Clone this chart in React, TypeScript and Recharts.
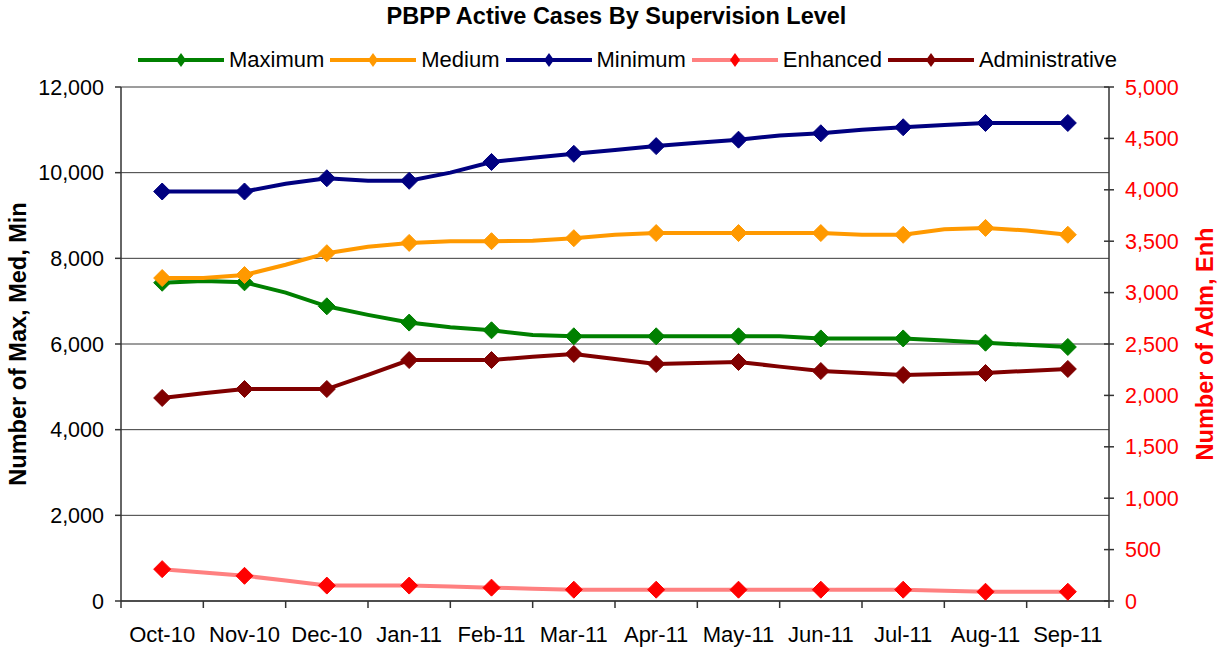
import React from 'react';
import { LineChart, Line, XAxis, YAxis, CartesianGrid, Legend } from 'recharts';

// Category labels (one per month)
const months = ['Oct-10', 'Nov-10', 'Dec-10', 'Jan-11', 'Feb-11', 'Mar-11', 'Apr-11', 'May-11', 'Jun-11', 'Jul-11', 'Aug-11', 'Sep-11'];

// Axis ticks
const leftTicks = [0, 2000, 4000, 6000, 8000, 10000, 12000];
const rightTicks = [0, 500, 1000, 1500, 2000, 2500, 3000, 3500, 4000, 4500, 5000];

// Semi-monthly readings (even index = month with marker, odd index = mid-month reading)
const maximum = [7430, 7470, 7440, 7200, 6880, 6680, 6500, 6390, 6320, 6210, 6180, 6180, 6180, 6180, 6180, 6180, 6130, 6130, 6130, 6080, 6030, 5980, 5930];
const medium = [7540, 7540, 7610, 7850, 8120, 8270, 8360, 8400, 8400, 8410, 8470, 8550, 8590, 8590, 8590, 8590, 8590, 8550, 8550, 8680, 8710, 8650, 8550];
const minimum = [9560, 9560, 9560, 9740, 9870, 9810, 9810, 10000, 10250, 10350, 10440, 10530, 10620, 10700, 10770, 10870, 10920, 11000, 11060, 11110, 11160, 11160, 11160];
const enhanced = [310, 278, 245, 200, 150, 150, 150, 140, 130, 120, 110, 110, 110, 110, 110, 110, 110, 110, 110, 100, 90, 90, 90];
const administrative = [1975, 2020, 2062, 2062, 2062, 2200, 2344, 2344, 2344, 2375, 2403, 2355, 2305, 2315, 2325, 2280, 2237, 2218, 2199, 2208, 2218, 2238, 2257];

const data = maximum.map((_, i) => ({
  x: i / 2,
  maximum: maximum[i],
  medium: medium[i],
  minimum: minimum[i],
  enhanced: enhanced[i],
  administrative: administrative[i],
}));

const xTicks = months.flatMap((_, i) => [i - 0.5, i]).concat([months.length - 0.5]);

const FONT = '"Liberation Sans", Arial, Helvetica, sans-serif';
const AXIS_COLOR = '#333333';

const seriesStyle = [
  { key: 'maximum', name: 'Maximum', line: '#008000', marker: '#008000', axis: 'left' },
  { key: 'medium', name: 'Medium', line: '#FF9900', marker: '#FF9900', axis: 'left' },
  { key: 'minimum', name: 'Minimum', line: '#000080', marker: '#000080', axis: 'left' },
  { key: 'enhanced', name: 'Enhanced', line: '#FF8080', marker: '#FF0000', axis: 'right' },
  { key: 'administrative', name: 'Administrative', line: '#800000', marker: '#800000', axis: 'right' },
];

const X_TICK_SIZE = 10;
const X_TICK_MARGIN = 15;

const XTick = (props: any) => {
  const { x, y, payload } = props;
  const v = payload.value as number;
  const axisY = y - X_TICK_SIZE - X_TICK_MARGIN;
  if (!Number.isInteger(v)) {
    return <line x1={x} x2={x} y1={axisY} y2={axisY + 7} stroke={AXIS_COLOR} strokeWidth={1.5} />;
  }
  return (
    <text x={x} y={y} dy="0.71em" textAnchor="middle" fontSize={22} fontFamily={FONT} fill="#000">
      {months[v]}
    </text>
  );
};

const RightTick = (props: any) => {
  const { x, y, payload } = props;
  const axisX = x - 5 - 11;
  return (
    <g>
      <line x1={axisX - 5} x2={axisX + 5} y1={y} y2={y} stroke={AXIS_COLOR} strokeWidth={1.5} />
      <text x={x} y={y} dy="0.355em" textAnchor="start" fontSize={21.5} fontFamily={FONT} fill="#FF0000">
        {Number(payload.value).toLocaleString('en-US')}
      </text>
    </g>
  );
};

const makeDot = (color: string) => (props: any) => {
  const { cx, cy, payload, index } = props;
  if (!Number.isInteger(payload.x) || cx == null || cy == null) {
    return <g key={`d-${index}`} />;
  }
  const r = 8.5;
  return (
    <path
      key={`d-${index}`}
      d={`M${cx},${cy - r}L${cx + r},${cy}L${cx},${cy + r}L${cx - r},${cy}Z`}
      fill={color}
      stroke={color}
      strokeWidth={1}
    />
  );
};

const LegendContent = () => (
  <div style={{ display: 'flex', justifyContent: 'center', alignItems: 'center', fontFamily: FONT, fontSize: 22, color: '#000', paddingLeft: 34 }}>
    {seriesStyle.map((s) => (
      <div key={s.key} style={{ display: 'flex', alignItems: 'center', marginRight: 5 }}>
        <svg width={88} height={20} style={{ display: 'block' }}>
          <line x1={1} x2={87} y1={10} y2={10} stroke={s.line} strokeWidth={4} />
          <path d="M44,3L49,10L44,17L39,10Z" fill={s.marker} />
        </svg>
        <span style={{ marginLeft: 4, whiteSpace: 'nowrap' }}>{s.name}</span>
      </div>
    ))}
  </div>
);

const AxisTitle = (side: 'left' | 'right', text: string, color: string) => (props: any) => {
  const vb = props.viewBox || {};
  const cy = (vb.y ?? 87) + (vb.height ?? 514) / 2;
  const cx = side === 'left' ? (vb.x ?? 0) + 18 : (vb.x ?? 1109) + (vb.width ?? 116) - 20;
  return (
    <text
      x={cx}
      y={cy}
      transform={`rotate(-90 ${cx} ${cy})`}
      textAnchor="middle"
      dominantBaseline="central"
      fontSize={23.5}
      fontWeight="bold"
      fontFamily={FONT}
      fill={color}
    >
      {text}
    </text>
  );
};

export default function App() {
  return (
    <div style={{ position: 'absolute', left: 0, top: 0, width: 1225, height: 649, background: '#fff', fontFamily: FONT }}>
      <div
        style={{
          position: 'absolute',
          left: 0,
          top: 3,
          width: 1225,
          textAlign: 'center',
          fontSize: 23.5,
          fontWeight: 'bold',
          color: '#000',
          paddingLeft: 8,
          boxSizing: 'border-box',
        }}
      >
        PBPP Active Cases By Supervision Level
      </div>
      <LineChart width={1225} height={649} data={data} margin={{ top: 87, right: 0, bottom: 0, left: 0 }}>
        <CartesianGrid yAxisId="left" horizontal vertical={false} stroke="#3a3a3a" strokeWidth={1} />
        <XAxis
          dataKey="x"
          type="number"
          domain={[-0.5, months.length - 0.5]}
          ticks={xTicks}
          interval={0}
          height={48}
          tickLine={false}
          tickSize={X_TICK_SIZE}
          tickMargin={X_TICK_MARGIN}
          axisLine={{ stroke: AXIS_COLOR, strokeWidth: 1.5 }}
          tick={<XTick />}
          allowDataOverflow
        />
        <YAxis
          yAxisId="left"
          orientation="left"
          width={121}
          domain={[0, 12000]}
          ticks={leftTicks}
          interval={0}
          tickSize={6}
          tickMargin={11}
          tickFormatter={(v: number) => v.toLocaleString('en-US')}
          tick={{ fontSize: 21.5, fill: '#000', fontFamily: FONT }}
          tickLine={{ stroke: AXIS_COLOR, strokeWidth: 1.5 }}
          axisLine={{ stroke: AXIS_COLOR, strokeWidth: 1.5 }}
          label={{ content: AxisTitle('left', 'Number of Max, Med, Min', '#000') }}
        />
        <YAxis
          yAxisId="right"
          orientation="right"
          width={116}
          domain={[0, 5000]}
          ticks={rightTicks}
          interval={0}
          tickSize={5}
          tickMargin={11}
          tickLine={false}
          tick={<RightTick />}
          axisLine={{ stroke: AXIS_COLOR, strokeWidth: 1.5 }}
          label={{ content: AxisTitle('right', 'Number of Adm, Enh', '#FF0000') }}
        />
        <Legend verticalAlign="middle" content={<LegendContent />} wrapperStyle={{ top: 47, left: 0, width: 1225 }} />
        {seriesStyle.map((s) => (
          <Line
            key={s.key}
            yAxisId={s.axis}
            type="linear"
            dataKey={s.key}
            name={s.name}
            stroke={s.line}
            strokeWidth={4}
            dot={makeDot(s.marker)}
            activeDot={false}
            isAnimationActive={false}
          />
        ))}
      </LineChart>
    </div>
  );
}
